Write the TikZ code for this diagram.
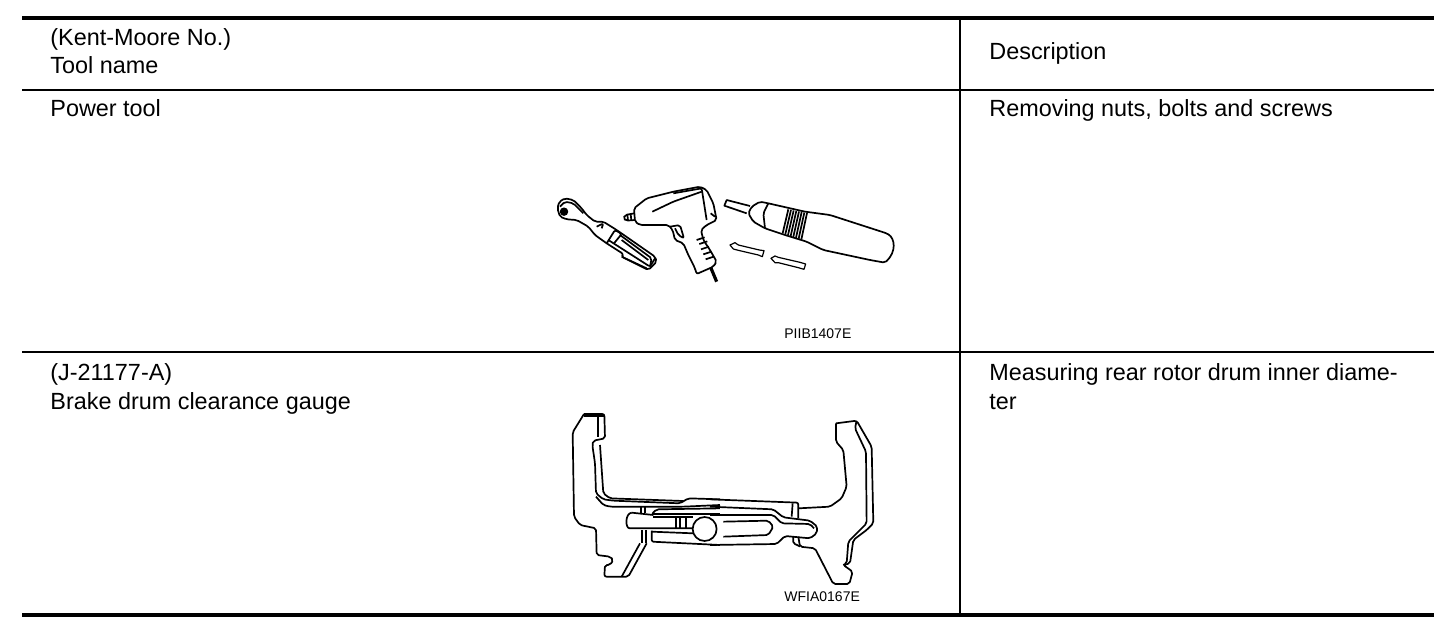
\documentclass[tikz,border=0pt]{standalone}
\usepackage{fontspec}
\setmainfont{Liberation Sans}
\usetikzlibrary{positioning}
\tikzset{
    rule/.style={line width=0.65pt},
    heavy/.style={line width=2.2pt},
    sketch/.style={line width=0.85pt, line join=round, rounded corners=1pt},
    bit/.style={line width=0.6pt, sharp corners},
    cell/.style={anchor=base west, inner sep=0pt, font=\fontsize{11.7}{13}\selectfont},
    code/.style={anchor=base west, inner sep=0pt, font=\fontsize{7}{8}\selectfont},
}
\begin{document}
\begin{tikzpicture}[x=0.5pt,y=-0.5pt]
    \useasboundingbox (0,0) rectangle (1456,634);
    % table
    \coordinate (TL) at (22,18);
    \coordinate (TR) at (1434,18);
    \coordinate (TM) at (960,18);
    \coordinate (BL) at (22,615);
    \coordinate (BR) at (1434,615);
    \coordinate (BM) at (960,615);
    \coordinate (HL) at (22,90);
    \coordinate (HR) at (1434,90);
    \coordinate (RL) at (22,352);
    \coordinate (RR) at (1434,352);
    \draw[heavy] (TL) -- (TR);
    \draw[heavy] (BL) -- (BR);
    \draw[rule] (HL) -- (HR);
    \draw[rule] (RL) -- (RR);
    \draw[rule] (TM) -- (BM);
    % text
    \node[cell] (kent) at (50,45) {(Kent-Moore No.)};
    \node[cell] (name) at (50,73) {Tool name};
    \node[cell] (desc) at (989,59) {Description};
    \node[cell] (power) at (50,116) {Power tool};
    \node[cell] (removing) at (989,116) {Removing nuts, bolts and screws};
    \node[cell] (jnum) at (50,380) {(J-21177-A)};
    \node[cell] (brake) at (50,409) {Brake drum clearance gauge};
    \node[cell] (measuring) at (989,380) {Measuring rear rotor drum inner diame-};
    \node[cell] (ter) at (989,409) {ter};
    \node[code] (piib) at (784,338) {PIIB1407E};
    \node[code] (wfia) at (784,601) {WFIA0167E};
    % ratchet and impact gun
    \begin{scope}[shift={(540,160)},scale=0.3333,sketch]
        \draw (52,145) -- (58,125) -- (75,115) -- (100,120) -- (125,145) -- (140,165) -- (165,185) -- (190,185) -- (230,210) -- (345,290) -- (350,305) -- (325,330) -- (245,290) -- (250,282) -- (200,250) -- (165,225) -- (145,200) -- (110,180) -- (80,178) -- (60,170) -- cycle;
        \draw[fill=black] (72,155) circle (10);
        \draw (60,140) -- (75,125) -- (100,130) -- (130,160);
        \draw (170,200) -- (190,190) -- (185,205);
        \draw (200,250) -- (225,210) -- (245,222) -- (222,250);
        \draw (205,240) -- (330,320) -- (345,295);
        \draw (240,225) -- (335,295) -- (330,320);
        \draw (245,240) -- (325,300);
        \draw (245,290) -- (320,325);
        % gun
        \draw (282,145) -- (320,115) -- (400,95) -- (480,80) -- (500,90) -- (520,130) -- (530,180) -- (500,195) -- (483,210) -- (490,240) -- (510,270) -- (530,305) -- (520,320) -- (470,342) -- (465,325) -- (445,285) -- (430,250) -- (405,240) -- (398,210) -- (385,195) -- (300,195) -- (285,185) -- cycle;
        \draw (283,160) -- (255,165) -- (250,175) -- (258,182) -- (285,180);
        \draw (262,163) -- (264,181);
        \draw (272,162) -- (274,181);
        \draw (337,155) -- (400,125) -- (485,95);
        \draw (400,100) -- (485,85) -- (500,180);
        \draw (512,160) -- (525,170);
        \draw (390,200) -- (420,195) -- (432,235) -- (415,225) -- (405,205);
        \foreach \ribx/\riby in {470/240,478/252,483/268,490/283,497/298}
            \draw (\ribx,\riby) -- (\ribx+24,\riby-8);
        \draw[line width=1.6pt] (512,322) -- (530,365);
    \end{scope}
    % screwdriver and bits
    \begin{scope}[shift={(710,180)},scale=0.3333,sketch]
        \draw[sharp corners] (120,78) -- (50,60) -- (43,77) -- (110,100);
        \draw (115,100) -- (125,80) -- (150,65) -- (175,70) -- (285,95) -- (360,105) -- (530,160) .. controls (555,175) and (560,215) .. (525,248) -- (480,240) -- (340,210) -- (290,185) -- (225,165) -- (165,145) -- (130,125) -- cycle;
        \draw (175,70) -- (160,100) -- (165,145);
        \foreach \band in {0,8,...,56}
            \draw (235+\band,88+\band/5) -- (218+\band,160+\band/3);
        \draw[bit] (60,195) -- (75,188) -- (85,195) -- (148,210) -- (162,212) -- (157,230) -- (145,225) -- (85,211) -- (70,207) -- cycle;
        \draw[bit] (183,235) -- (195,228) -- (205,232) -- (270,247) -- (287,252) -- (282,268) -- (265,263) -- (205,248) -- (195,248) -- cycle;
    \end{scope}
    % gauge, left half
    \begin{scope}[shift={(560,400)},scale=0.3333,sketch]
        \draw (72,42) -- (133,42) -- (135,115) -- (100,122) -- (97,135) -- (105,190) -- (108,280) -- (130,298) -- (160,302) -- (360,310) -- (385,295) -- (480,298);
        \draw (72,42) -- (38,97) -- (42,350) -- (60,375) -- (108,385) -- (110,465) -- (150,470) -- (160,480) -- (150,495) -- (135,495) -- (133,530) -- (205,530) -- (260,430);
        \draw (72,48) -- (133,48);
        \draw (115,45) -- (115,110);
        \draw (120,135) -- (130,280) -- (150,295) -- (370,303);
        \draw (108,290) -- (130,315) -- (150,320) -- (370,320) -- (480,315);
        \draw (240,430) -- (185,530);
        \draw (242,322) -- (242,338);
        \draw (255,322) -- (255,340);
        \draw (480,325) -- (290,328) -- (275,342) -- (480,342);
        \draw (215,338) -- (280,345);
        \draw (215,338) .. controls (195,340) and (195,385) .. (215,385) -- (280,385) -- (400,385);
        \draw (347,352) -- (347,388);
        \draw (360,352) -- (360,388);
        \draw (378,352) -- (378,388);
        \draw (280,352) -- (400,352);
        \draw (245,390) -- (245,428);
        \draw (258,390) -- (258,428);
        \draw (275,392) -- (275,425) -- (480,435);
        \draw (275,395) -- (400,400);
        \draw[fill=white] (434,387) circle (36);
    \end{scope}
    % gauge, right half
    \begin{scope}[shift={(710,400)},scale=0.3333,sketch]
        \draw (378,70) -- (440,62) -- (485,140) -- (490,370) -- (470,390) -- (430,420) -- (420,490) -- (400,495) -- (428,515) -- (418,552) -- (370,552) -- (315,445) -- (270,440) -- (265,410);
        \draw (378,70) -- (378,125) -- (400,150) -- (410,260) -- (395,295) -- (360,320) -- (265,325);
        \draw (440,62) -- (435,85) -- (468,155) -- (470,370) -- (450,390) -- (415,425) -- (410,490) -- (400,495);
        \draw (0,298) -- (265,308) -- (265,355);
        \draw (248,310) -- (245,350);
        \draw (0,320) -- (190,328) -- (220,352) -- (300,362) -- (322,380) -- (320,400) -- (300,415) -- (225,408) -- (200,432) -- (0,435);
        \draw (40,365) -- (175,362) -- (190,380) -- (175,405) -- (40,410);
        \draw (0,345) -- (190,345) -- (215,370) -- (300,372) -- (312,385);
        \draw (250,410) -- (250,432) -- (265,435) -- (270,440);
    \end{scope}
\end{tikzpicture}
\end{document}
